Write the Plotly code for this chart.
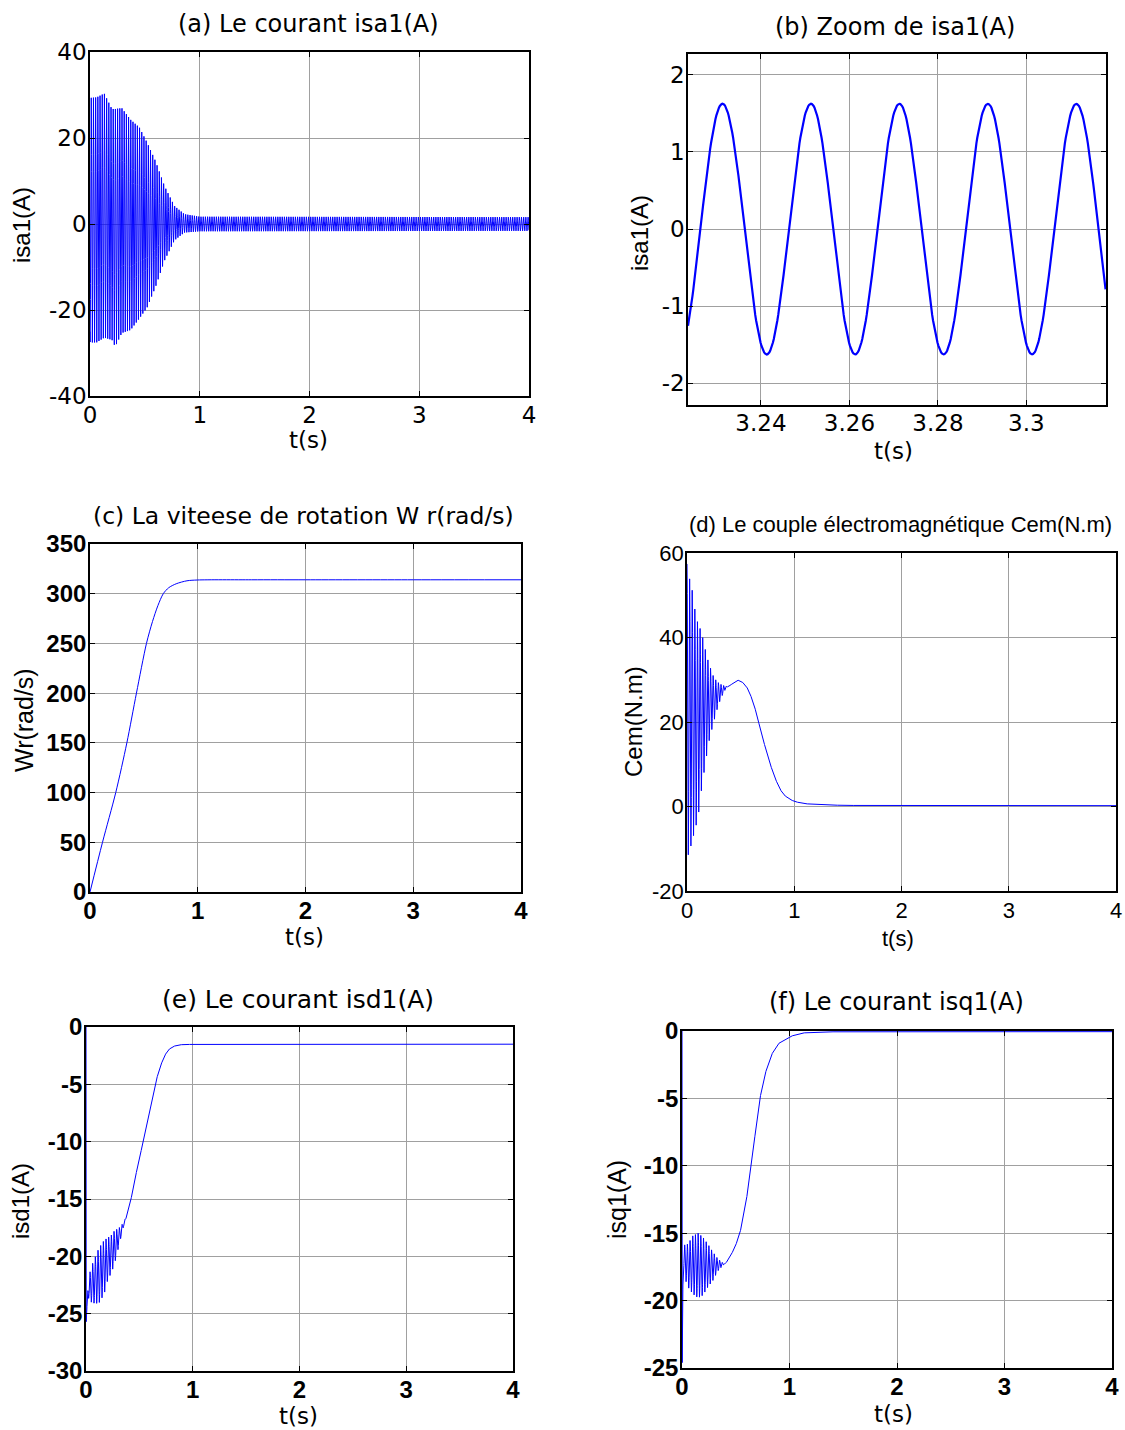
import numpy as np
import plotly.graph_objects as go

W, H = 1125, 1430

# ---------------- data ----------------
# (a)/(b) stator current isa1: peak envelope of the 50 Hz wave
isa_t = [0, 0.01, 0.06, 0.13, 0.20, 0.23, 0.29, 0.37, 0.45, 0.52, 0.60, 0.68, 0.77, 0.86, 1.0, 4.0]
isa_max = [32.8, 29.4, 29.5, 30.4, 26.8, 26.8, 27.0, 24.3, 22.5, 19.0, 14.5, 8.8, 4.2, 2.3, 1.7, 1.6]
isa_min = [-27.5, -27.6, -27.6, -26.5, -27.0, -28.6, -25.4, -24.7, -22.0, -19.5, -14.5, -8.5, -3.8, -2.0, -1.7, -1.6]
isa_freq = 50.0
isa_crest = 3.2313          # time of one crest in steady state
zoom_window = [3.2235, 3.318]

# (c) rotor speed Wr (rad/s)
wr_t = [0, 0.116, 0.239, 0.342, 0.431, 0.524, 0.58, 0.63, 0.68, 0.73, 0.80, 0.90, 1.0, 1.5, 2.0, 3.0, 4.0]
wr_v = [0, 50, 100, 150, 200, 250, 272, 288, 300, 306, 310, 313, 313.8, 314, 314, 314, 314]

# (d) electromagnetic torque Cem (N.m): envelope of the starting oscillation
cem_t = [0, 0.005, 0.025, 0.05, 0.085, 0.11, 0.135, 0.157, 0.18, 0.21, 0.244, 0.275, 0.307, 0.345, 0.38,
         0.40, 0.44, 0.474, 0.51, 0.55, 0.58, 0.62, 0.65, 0.675, 0.70, 0.73, 0.77, 0.81, 0.86, 0.90,
         0.95, 1.0, 1.08, 1.23, 1.5, 4.0]
cem_max = [57.4, 57.4, 53.8, 51.1, 44.5, 43.0, 41.2, 38.9, 36.0, 33.4, 31.0, 29.7, 29.0, 28.6, 28.4,
           28.6, 29.4, 29.9, 29.6, 28.6, 27.2, 24.5, 21.8, 19.2, 16.7, 14.0, 10.5, 7.4, 4.4, 2.8,
           1.8, 1.2, 0.7, 0.4, 0.25, 0.2]
cem_min = [-12.0, -12.0, -10.5, -8.0, -4.5, -1.3, 3.9, 7.8, 11.5, 16.0, 19.5, 22.5, 25.0, 27.2, 28.4,
           28.6, 29.4, 29.9, 29.6, 28.6, 27.2, 24.5, 21.8, 19.2, 16.7, 14.0, 10.5, 7.4, 4.4, 2.8,
           1.8, 1.2, 0.7, 0.4, 0.25, 0.2]
cem_freq = 41.0

# (e) direct-axis current isd1 (A)
isd_t = [0, 0.002, 0.02, 0.05, 0.08, 0.12, 0.17, 0.2, 0.233, 0.264, 0.295, 0.326, 0.357, 0.388,
         0.42, 0.48, 0.543, 0.605, 0.65, 0.69, 0.73, 0.77, 0.81, 0.86, 0.92, 4.0]
isd_max = [0, -25.7, -22.0, -20.9, -20.2, -19.3, -18.6, -18.4, -18.2, -17.8, -17.6, -17.4, -16.9, -16.2,
           -15.1, -12.3, -9.7, -6.8, -4.9, -3.6, -2.6, -2.0, -1.72, -1.57, -1.52, -1.5]
isd_min = [0, -25.7, -23.6, -24.0, -24.1, -24.1, -23.3, -22.2, -21.5, -20.8, -19.6, -18.4, -17.2, -16.3,
           -15.1, -12.3, -9.7, -6.8, -4.9, -3.6, -2.6, -2.0, -1.72, -1.57, -1.52, -1.5]
isd_freq = 40.0

# (f) quadrature-axis current isq1 (A)
isq_t = [0, 0.002, 0.01, 0.056, 0.1, 0.15, 0.195, 0.24, 0.288, 0.334, 0.38, 0.41, 0.443, 0.49, 0.536,
         0.58, 0.628, 0.675, 0.72, 0.768, 0.83, 0.89, 1.0, 1.11, 1.3, 4.0]
isq_max = [0, -24.6, -15.9, -15.8, -15.2, -15.0, -15.3, -15.8, -16.4, -16.9, -17.2, -17.2, -16.8, -16.1, -15.1,
           -13.5, -11.0, -8.0, -5.2, -3.3, -1.8, -0.97, -0.42, -0.15, -0.06, -0.05]
isq_min = [0, -24.6, -18.0, -19.0, -19.5, -19.8, -19.6, -19.0, -18.5, -17.8, -17.4, -17.2, -16.8, -16.1, -15.1,
           -13.5, -11.0, -8.0, -5.2, -3.3, -1.8, -0.97, -0.42, -0.15, -0.06, -0.05]
isq_freq = 40.0

# tick labels
t_ticks = [0, 1, 2, 3, 4]
zoom_ticks = [3.24, 3.26, 3.28, 3.30]
zoom_tick_text = ["3.24", "3.26", "3.28", "3.3"]
isa_ticks = [-40, -20, 0, 20, 40]
zoom_y_ticks = [-2, -1, 0, 1, 2]
wr_ticks = [0, 50, 100, 150, 200, 250, 300, 350]
cem_ticks = [-20, 0, 20, 40, 60]
isd_ticks = [-30, -25, -20, -15, -10, -5, 0]
isq_ticks = [-25, -20, -15, -10, -5, 0]


def wave(t, env_t, env_max, env_min, freq, crest=0.0):
    hi = np.interp(t, env_t, env_max)
    lo = np.interp(t, env_t, env_min)
    return (hi + lo) / 2 + (hi - lo) / 2 * np.cos(2 * np.pi * freq * (t - crest))


t_full = np.arange(0, 4.0 + 1e-9, 0.0005)
t_zoom = np.arange(zoom_window[0], zoom_window[1] + 1e-9, 0.0002)

isa_full = wave(t_full, isa_t, isa_max, isa_min, isa_freq, isa_crest)
isa_zoom = wave(t_zoom, isa_t, isa_max, isa_min, isa_freq, isa_crest)
cem = wave(t_full, cem_t, cem_max, cem_min, cem_freq)
isd = wave(t_full, isd_t, isd_max, isd_min, isd_freq, 1 / (2 * isd_freq))
isq = wave(t_full, isq_t, isq_max, isq_min, isq_freq)

# ---------------- layout helpers ----------------
BLUE = "#0000ff"
GRID = "#a0a0a0"

F_WIDE = "DejaVu Sans"
F_ARIAL = "Liberation Sans, Arial"


def fmt(v):
    return "%g" % v


def px_x(a, b):
    return [a / W, b / W]


def px_y(top, bottom):
    return [1 - bottom / H, 1 - top / H]


def axis(domain, rng, vals, text, font, anchor, standoff):
    return dict(
        domain=domain, range=rng, anchor=anchor, automargin=False,
        tickmode="array", tickvals=vals, ticktext=text,
        ticks="inside", ticklen=5, tickwidth=1, tickcolor="black",
        showline=True, linecolor="black", linewidth=1.6, mirror="ticks",
        showgrid=True, gridcolor=GRID, gridwidth=1, zeroline=False,
        tickfont=font, fixedrange=True, ticklabelstandoff=standoff,
    )


f_tick_a = dict(family=F_WIDE, size=23, color="black")
f_tick_bold = dict(family=F_ARIAL, size=24, color="black", weight="bold")
f_tick_d = dict(family=F_ARIAL, size=22, color="black")

panels = [
    # name, x px, y px, xrange, yrange, xticks, xtext, yticks, font, x standoff
    ("a", (90, 529), (52, 396), [0, 4], [-40, 40], t_ticks, [fmt(v) for v in t_ticks],
     isa_ticks, f_tick_a, -2),
    ("b", (688, 1106), (54, 405), zoom_window, [-2.28, 2.27], zoom_ticks, zoom_tick_text,
     zoom_y_ticks, f_tick_a, -3),
    ("c", (90, 521), (544, 892), [0, 4], [0, 350], t_ticks, [fmt(v) for v in t_ticks],
     wr_ticks, f_tick_bold, -4),
    ("d", (687, 1116), (553, 891), [0, 4], [-20, 60], t_ticks, [fmt(v) for v in t_ticks],
     cem_ticks, f_tick_d, -1),
    ("e", (86, 513), (1027, 1371), [0, 4], [-30, 0], t_ticks, [fmt(v) for v in t_ticks],
     isd_ticks, f_tick_bold, -4),
    ("f", (682, 1112), (1031, 1368), [0, 4], [-25, 0], t_ticks, [fmt(v) for v in t_ticks],
     isq_ticks, f_tick_bold, -4),
]

fig = go.Figure()

series = [
    (t_full, isa_full, 1.0),
    (t_zoom, isa_zoom, 2.2),
    (wr_t, wr_v, 1.0),
    (t_full, cem, 1.0),
    (t_full, isd, 1.0),
    (t_full, isq, 1.0),
]

layout = dict(
    width=W, height=H, margin=dict(l=0, r=0, t=0, b=0, pad=0, autoexpand=False),
    paper_bgcolor="white", plot_bgcolor="white", showlegend=False,
)

for i, (p, s) in enumerate(zip(panels, series), start=1):
    name, xp, yp, xr, yr, xt, xtt, yt, font, xso = p
    sx = "" if i == 1 else str(i)
    tx, ty, lw = s
    tr = go.Scatter(x=tx, y=ty, mode="lines", xaxis="x" + sx, yaxis="y" + sx,
                    line=dict(color=BLUE, width=lw), hoverinfo="skip")
    if name == "c":
        tr.line.shape = "spline"
        tr.line.smoothing = 0.8
    fig.add_trace(tr)
    layout["xaxis" + sx] = axis(px_x(*xp), xr, xt, xtt, font, "y" + sx, xso)
    layout["yaxis" + sx] = axis(px_y(*yp), yr, yt, [fmt(v) for v in yt], font, "x" + sx, -3)

# titles and axis labels
texts = [
    ("(a) Le courant isa1(A)", 308, 24, F_WIDE, 24, 0),
    ("(b) Zoom de isa1(A)", 895, 27, F_WIDE, 24, 0),
    ("(c) La viteese de rotation W r(rad/s)", 303, 516, F_WIDE, 23.5, 0),
    ("(d) Le couple électromagnétique Cem(N.m)", 900, 524, F_ARIAL, 22, 0),
    ("(e) Le courant isd1(A)", 298, 999, F_WIDE, 25, 0),
    ("(f) Le courant isq1(A)", 896, 1002, F_WIDE, 24, 0),
    ("t(s)", 308, 440, F_WIDE, 23, 0),
    ("t(s)", 893, 451, F_WIDE, 23, 0),
    ("t(s)", 304, 937, F_WIDE, 23, 0),
    ("t(s)", 898, 939, F_ARIAL, 22, 0),
    ("t(s)", 298, 1416, F_WIDE, 23, 0),
    ("t(s)", 893, 1414, F_WIDE, 23, 0),
    ("isa1(A)", 22, 225, F_ARIAL, 24, -90),
    ("isa1(A)", 639, 233, F_ARIAL, 24, -90),
    ("Wr(rad/s)", 24, 720, F_ARIAL, 25, -90),
    ("Cem(N.m)", 633, 722, F_ARIAL, 24, -90),
    ("isd1(A)", 20, 1201, F_ARIAL, 24, -90),
    ("isq1(A)", 617, 1200, F_ARIAL, 25, -90),
]
ann = []
for txt, x, y, fam, size, ang in texts:
    ann.append(dict(text=txt, x=x / W, y=1 - y / H, xref="paper", yref="paper",
                    xanchor="center", yanchor="middle", showarrow=False, textangle=ang,
                    font=dict(family=fam, size=size, color="black")))
layout["annotations"] = ann

fig.update_layout(**layout)
fig.write_html("out.html",
               post_script="document.body.style.margin='0px';document.body.style.overflow='hidden';")
